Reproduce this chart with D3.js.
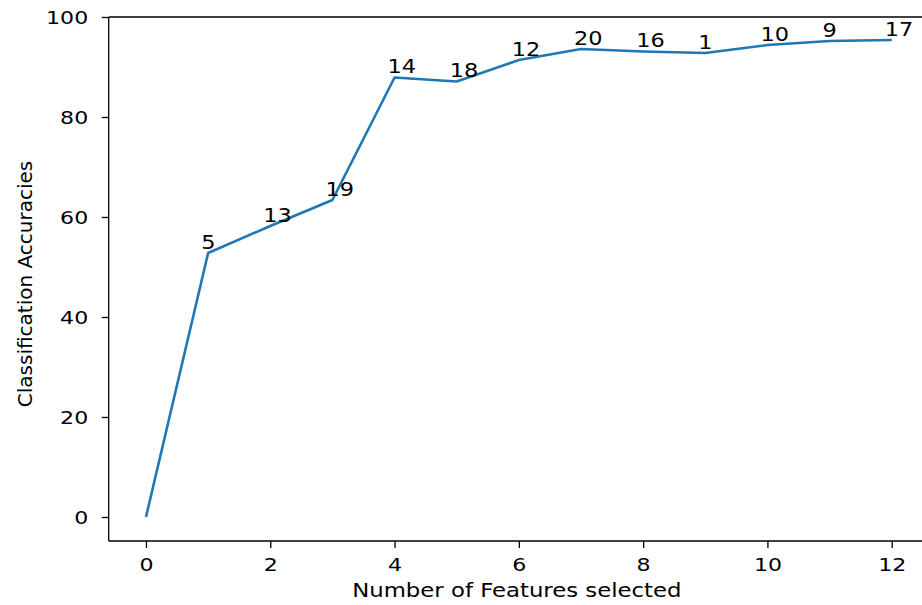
<!DOCTYPE html>
<html>
<head>
<meta charset="utf-8">
<script src="https://cdn.jsdelivr.net/npm/d3@7"></script>
<style>
  html, body { margin: 0; padding: 0; background: #fff; }
  svg { display: block; }
  text { font-family: "DejaVu Sans", sans-serif; fill: #000; }
</style>
</head>
<body>
<svg id="chart" width="922" height="605"></svg>
<script>
// Number of features selected (x) and the resulting accuracy (y)
const featureCounts = [0, 1, 2, 3, 4, 5, 6, 7, 8, 9, 10, 11, 12];
const accuracies = [0, 52.8, 58.2, 63.4, 87.9, 87.1, 91.4, 93.6, 93.1, 92.8, 94.4, 95.2, 95.4];
// Index of the feature added at each step (none for the empty set)
const featureAdded = ["", "5", "13", "19", "14", "18", "12", "20", "16", "1", "10", "9", "17"];
const xTicks = [0, 2, 4, 6, 8, 10, 12];
const yTicks = [0, 20, 40, 60, 80, 100];

const svg = d3.select("#chart");
const plotLeft = 108.7, plotRight = 929, plotTop = 17, plotBottom = 541;

const x = d3.scaleLinear().domain([-0.6, 12.6]).range([plotLeft, plotRight]);
const y = d3.scaleLinear().domain([-4.8, 100]).range([plotBottom, plotTop]);

// Text in this figure is wider than it is tall; stretch it horizontally
function place(sel, px, py, sx, sy) {
  sel.attr("x", 0).attr("y", 0)
     .attr("transform", `translate(${px},${py}) scale(${sx},${sy || 1})`);
}

// Accuracy curve
const line = d3.line().x((d, i) => x(featureCounts[i])).y(d => y(d));
svg.append("path")
  .datum(accuracies)
  .attr("d", line)
  .attr("fill", "none")
  .attr("stroke", "#1f77b4")
  .attr("stroke-width", 2.6)
  .attr("stroke-linejoin", "round");

// Feature index annotations
svg.append("g").selectAll("text")
  .data(accuracies)
  .join("text")
  .text((d, i) => featureAdded[i])
  .attr("font-size", 19)
  .each(function (d, i) {
    place(d3.select(this), x(featureCounts[i]) - 7, y(d) - 4.5, 1.18);
  });

// Axes
const xAxis = svg.append("g")
  .attr("transform", `translate(0,${plotBottom})`)
  .call(d3.axisBottom(x).tickValues(xTicks).tickSize(7).tickSizeOuter(0).tickFormat(d3.format("d")));
const yAxis = svg.append("g")
  .attr("transform", `translate(${plotLeft},0)`)
  .call(d3.axisLeft(y).tickValues(yTicks).tickSize(7).tickSizeOuter(0).tickFormat(d3.format("d")));

[xAxis, yAxis].forEach(g => {
  g.select(".domain").remove();
  g.selectAll(".tick line").attr("stroke", "#000").attr("stroke-width", 1.3);
  g.selectAll(".tick text").attr("font-size", 17).attr("fill", "#000").attr("font-family", "DejaVu Sans, sans-serif");
});
xAxis.selectAll(".tick text").attr("text-anchor", "middle").attr("dy", null)
  .each(function () { place(d3.select(this), 0, 30, 1.3); });
yAxis.selectAll(".tick text").attr("text-anchor", "end").attr("dy", null)
  .each(function () { place(d3.select(this), -20.5, 6, 1.3); });

// Spines (left, bottom, top)
const spines = svg.append("g").attr("stroke", "#000").attr("stroke-width", 1.3).attr("fill", "none");
spines.append("line").attr("x1", plotLeft).attr("x2", plotLeft).attr("y1", plotTop).attr("y2", plotBottom);
spines.append("line").attr("x1", plotLeft).attr("x2", plotRight).attr("y1", plotBottom).attr("y2", plotBottom);
spines.append("line").attr("x1", plotLeft).attr("x2", plotRight).attr("y1", plotTop).attr("y2", plotTop);

// Axis titles
svg.append("text")
  .attr("text-anchor", "middle")
  .attr("font-size", 19)
  .text("Number of Features selected")
  .call(sel => place(sel, (plotLeft + plotRight) / 2 - 2, 596.5, 1.2));

svg.append("text")
  .attr("text-anchor", "middle")
  .attr("font-size", 20)
  .text("Classification Accuracies")
  .attr("x", 0).attr("y", 0)
  .attr("transform", `translate(32,284) rotate(-90) scale(1,0.95)`);
</script>
</body>
</html>
